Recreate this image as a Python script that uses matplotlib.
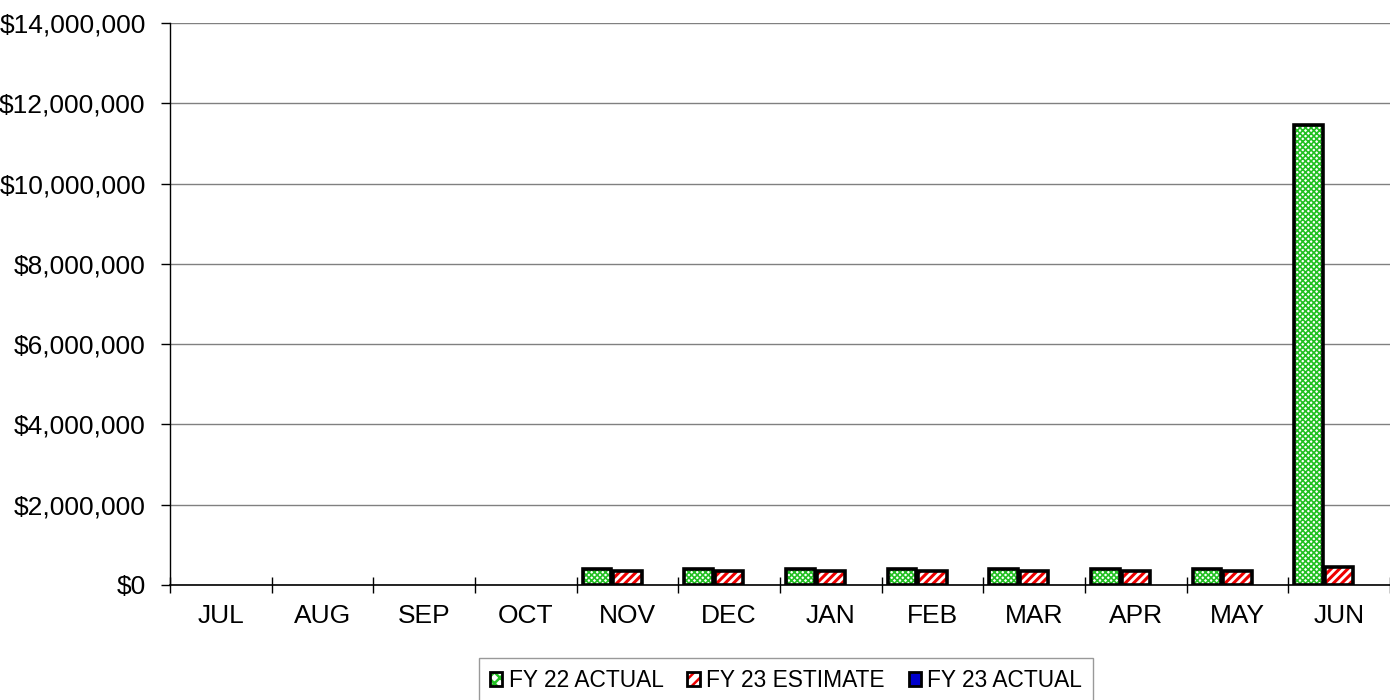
import numpy as np
import matplotlib.pyplot as plt
from matplotlib.patches import Patch
from matplotlib.legend_handler import HandlerTuple
from matplotlib.ticker import FuncFormatter

plt.rcParams['font.family'] = ['Liberation Sans', 'DejaVu Sans']

months = ['JUL', 'AUG', 'SEP', 'OCT', 'NOV', 'DEC', 'JAN', 'FEB', 'MAR', 'APR', 'MAY', 'JUN']
fy22_actual = [0, 0, 0, 0, 400000, 400000, 400000, 400000, 400000, 400000, 400000, 11450000]
fy23_estimate = [0, 0, 0, 0, 350000, 350000, 350000, 350000, 350000, 350000, 350000, 450000]
fy23_actual = [0, 0, 0, 0, 0, 0, 0, 0, 0, 0, 0, 0]

fig = plt.figure(figsize=(13.9, 7), dpi=100)
ax = fig.add_axes([170 / 1390, 1 - 585 / 700, 1220 / 1390, 562 / 700])

x = np.arange(len(months))
w = 0.28
# (values, offset, colour, hatch, hatch line width)
series = [
    (fy22_actual, -0.3, '#22c022', 'xxxxxx', 1.2),
    (fy23_estimate, 0.0, '#ee0000', '////', 2.2),
    (fy23_actual, 0.3, '#0000cc', None, 1.0),
]
for vals, off, col, hatch, hlw in series:
    vals = np.array(vals)
    mask = vals > 0
    if not mask.any():
        continue
    plt.rcParams['hatch.linewidth'] = hlw
    if hatch:
        ax.bar(x[mask] + off, vals[mask], w, color='white', edgecolor=col,
               hatch=hatch, linewidth=0, zorder=3)
        ax.bar(x[mask] + off, vals[mask], w, fill=False, edgecolor='black',
               linewidth=2.6, zorder=4)
    else:
        ax.bar(x[mask] + off, vals[mask], w, color=col, edgecolor='black',
               linewidth=2.6, zorder=3)

ax.set_xlim(-0.5, 11.5)
ax.set_ylim(0, 14000000)
ax.set_yticks(np.arange(0, 14000001, 2000000))
ax.yaxis.set_major_formatter(FuncFormatter(lambda v, p: f'${v:,.0f}'))
ax.grid(axis='y', color='#808080', linewidth=1, zorder=0)

# month labels centred, tick marks on the category boundaries
ax.set_xticks(x)
ax.set_xticklabels(months)
ax.set_xticks(np.arange(-0.5, 12, 1), minor=True)
ax.tick_params(axis='x', which='major', length=0, pad=14, labelsize=19)
ax.tick_params(axis='x', which='minor', length=12, direction='inout', width=1)
ax.tick_params(axis='y', length=6.5, direction='out', width=1, labelsize=19, pad=11)

for s in ['top', 'right']:
    ax.spines[s].set_visible(False)
ax.spines['left'].set_linewidth(1)
ax.spines['bottom'].set_linewidth(1.2)

# legend keys: coloured hatch with a black outline drawn over it
plt.rcParams['hatch.linewidth'] = 1.0
g_fill = Patch(facecolor='white', edgecolor='#22c022', hatch='xxx', linewidth=0)
plt.rcParams['hatch.linewidth'] = 1.8
r_fill = Patch(facecolor='white', edgecolor='#ee0000', hatch='///', linewidth=0)
outline = Patch(fill=False, edgecolor='black', linewidth=2)
b_key = Patch(facecolor='#0000cc', edgecolor='black', linewidth=2)
leg = fig.legend([(g_fill, outline), (r_fill, outline), b_key],
                 ['FY 22 ACTUAL', 'FY 23 ESTIMATE', 'FY 23 ACTUAL'],
                 handler_map={tuple: HandlerTuple(ndivide=1, pad=0)},
                 loc='upper center', bbox_to_anchor=(786 / 1390, 1 - 658 / 700),
                 ncol=3, fontsize=16.4, frameon=True, fancybox=False, handlelength=0.55,
                 handleheight=0.55, handletextpad=0.27, columnspacing=1.05, borderpad=0.5,
                 borderaxespad=0)
leg.get_frame().set_edgecolor('#808080')
leg.get_frame().set_linewidth(1)

fig.savefig('out.png', dpi=100)
